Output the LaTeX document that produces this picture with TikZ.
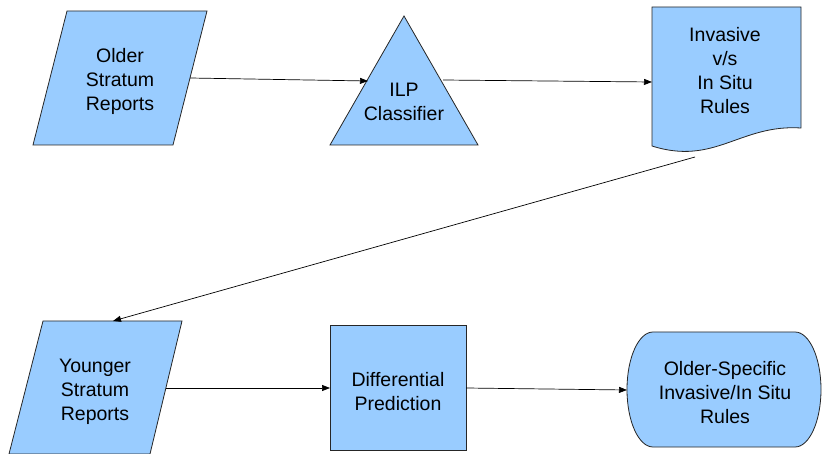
\documentclass[tikz,border=0pt]{standalone}
\usepackage{fontspec}
\setmainfont{Liberation Sans}
\usetikzlibrary{arrows.meta}
\begin{document}
\begin{tikzpicture}[x=1pt,y=-1pt,
  shapebox/.style={draw=black!85,line width=0.8pt,fill=boxblue},
  lbl/.style={align=center,inner sep=0pt,font=\fontsize{19.5}{24}\selectfont},
  conn/.style={draw=black,line width=0.7pt,-{Triangle[length=8pt,width=6pt]}}]
\definecolor{boxblue}{HTML}{99CCFF}
\useasboundingbox (0,0) rectangle (822,454);
% Older stratum reports (parallelogram)
\path[shapebox] (67,11) -- (207,11) -- (173,145) -- (33,145) -- cycle;
\node[lbl] (older) at (120,81) {Older\\Stratum\\Reports};
% ILP classifier (triangle)
\path[shapebox] (404,16) -- (478,145) -- (330,145) -- cycle;
\node[lbl] (ilp) at (404,102) {ILP\\Classifier};
% Document
\path[shapebox] (652,7) -- (801,7) -- (801,128)
  .. controls (740,124) and (715,166) .. (652,146) -- cycle;
\node[lbl] (rules) at (725,71) {Invasive\\v/s\\In Situ\\Rules};
% Younger stratum reports
\path[shapebox] (43,321) -- (182,321) -- (150,454) -- (9,454) -- cycle;
\node[lbl] (younger) at (95,392) {Younger\\Stratum\\Reports};
% Differential prediction
\path[shapebox] (330,325) rectangle (466,450);
\node[lbl] (diff) at (398,392) {Differential\\Prediction};
% Terminator
\path[shapebox] (653,332) -- (795,332) arc[start angle=-90,end angle=90,x radius=26,y radius=57.5]
  -- (653,447) arc[start angle=90,end angle=270,x radius=26,y radius=57.5] -- cycle;
\node[lbl] (spec) at (725,393) {Older-Specific\\Invasive/In Situ\\Rules};
% connector end points
\coordinate (olderR) at (190,78);
\coordinate (ilpL) at (368,81);
\coordinate (ilpR) at (443,80);
\coordinate (rulesL) at (652,82);
\coordinate (rulesB) at (695,157);
\coordinate (youngerT) at (113,321);
\coordinate (youngerR) at (166,388);
\coordinate (diffL) at (330,388);
\coordinate (diffR) at (466,388);
\coordinate (specL) at (627,390);
\draw[conn] (olderR) -- (ilpL);
\draw[conn] (ilpR) -- (rulesL);
\draw[conn] (rulesB) -- (youngerT);
\draw[conn] (youngerR) -- (diffL);
\draw[conn] (diffR) -- (specL);
\end{tikzpicture}
\end{document}
